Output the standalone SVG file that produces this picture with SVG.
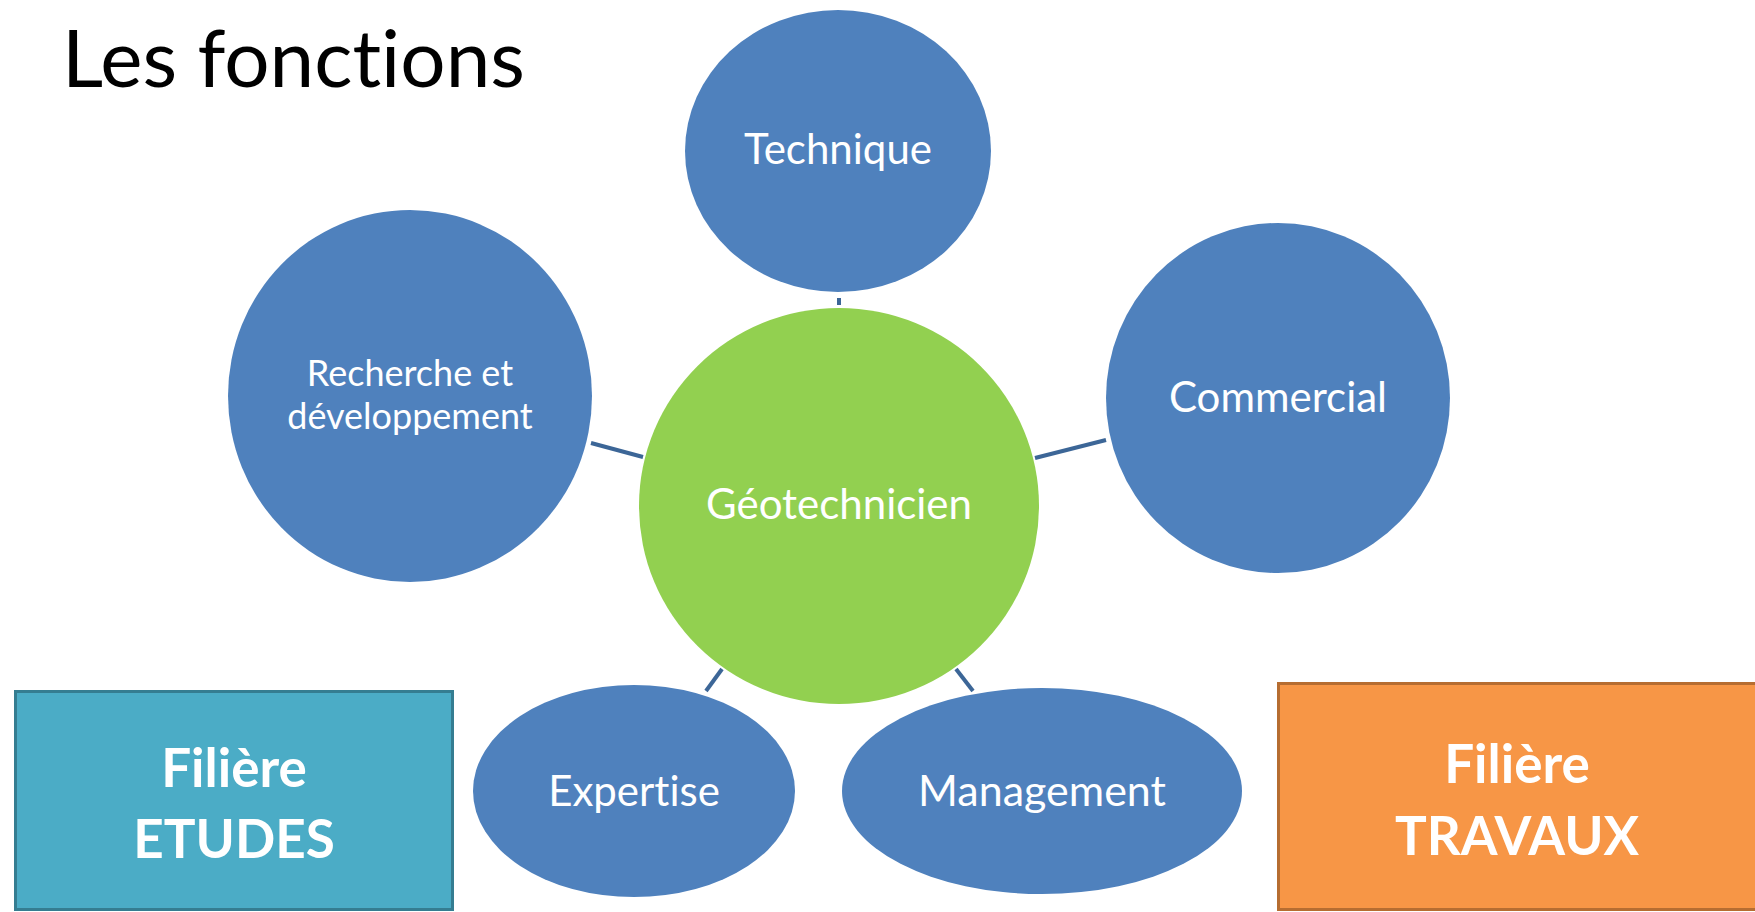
<svg xmlns="http://www.w3.org/2000/svg" width="1755" height="912" viewBox="0 0 1755 912">
<style>
text{font-variant-ligatures:none;font-feature-settings:"liga" 0;}
.bubble{fill:#4f81bd;}
.core{fill:#92d050;}
.lbl{fill:#ffffff;font-family:Lato,"Open Sans","Liberation Sans",sans-serif;text-anchor:middle;}
.big{fill:#ffffff;font-family:Lato,"Open Sans","Liberation Sans",sans-serif;font-weight:bold;text-anchor:middle;font-size:53px;}
.conn{stroke:#3c6697;stroke-width:4;fill:none;}
</style>
<rect width="1755" height="912" fill="#ffffff"/>
<text x="62" y="87" font-family="Lato,'Open Sans','Liberation Sans',sans-serif" font-size="80" fill="#000000">Les fonctions</text>
<g id="connectors">
<line class="conn" x1="839" y1="298" x2="839" y2="305"/>
<line class="conn" x1="591" y1="443" x2="643" y2="457"/>
<line class="conn" x1="1035" y1="458" x2="1106" y2="440"/>
<line class="conn" x1="722" y1="669" x2="706" y2="691"/>
<line class="conn" x1="956" y1="669" x2="973" y2="691"/>
</g>
<g id="technique">
<ellipse class="bubble" cx="838" cy="151" rx="153" ry="141"/>
<text class="lbl" x="838" y="164" font-size="42">Technique</text>
</g>
<g id="recherche">
<ellipse class="bubble" cx="410" cy="396" rx="182" ry="186"/>
<text class="lbl" x="410" y="386" font-size="36">Recherche et</text>
<text class="lbl" x="410" y="429" font-size="36">développement</text>
</g>
<g id="commercial">
<ellipse class="bubble" cx="1278" cy="398" rx="172" ry="175"/>
<text class="lbl" x="1278" y="412" font-size="42">Commercial</text>
</g>
<g id="geotechnicien">
<ellipse class="core" cx="839" cy="506" rx="200" ry="198"/>
<text class="lbl" x="839" y="519" font-size="42">Géotechnicien</text>
</g>
<g id="expertise">
<ellipse class="bubble" cx="634" cy="791" rx="161" ry="106"/>
<text class="lbl" x="634" y="806" font-size="42">Expertise</text>
</g>
<g id="management">
<ellipse class="bubble" cx="1042" cy="791" rx="200" ry="103"/>
<text class="lbl" x="1042" y="806" font-size="43">Management</text>
</g>
<g id="filiere-etudes">
<rect x="15.5" y="691.5" width="437" height="218" fill="#4bacc6" stroke="#357d91" stroke-width="3"/>
<text class="big" x="234" y="787">Filière</text>
<text class="big" x="234" y="858">ETUDES</text>
</g>
<g id="filiere-travaux">
<rect x="1278.5" y="683.5" width="480" height="226" fill="#f79646" stroke="#b66d31" stroke-width="3"/>
<text class="big" x="1517" y="783">Filière</text>
<text class="big" x="1517" y="855">TRAVAUX</text>
</g>
</svg>
